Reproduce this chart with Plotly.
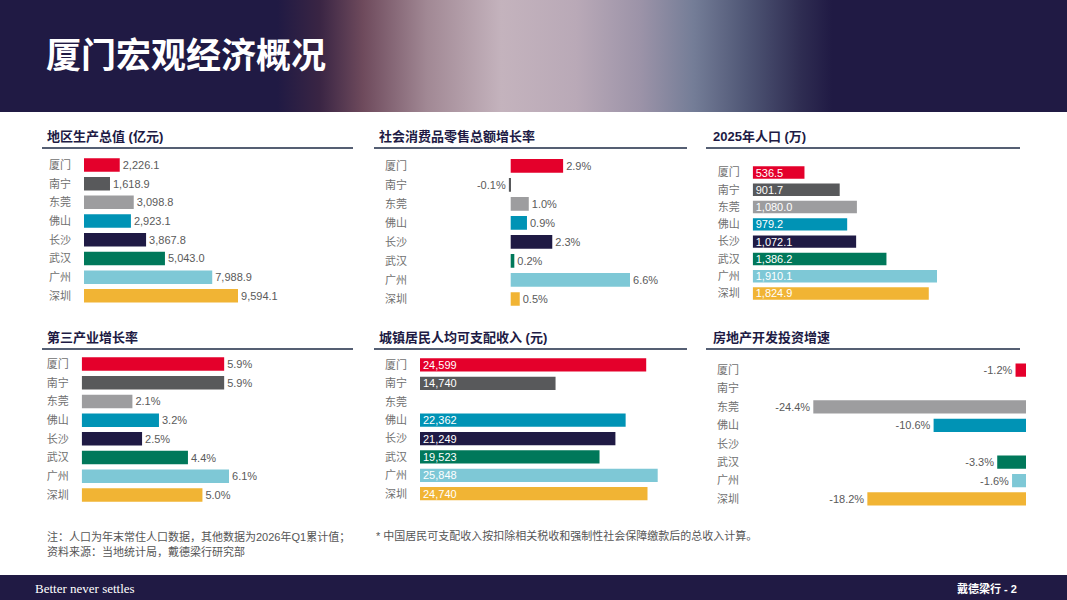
import plotly.graph_objects as go

# City order and colours (same in every panel)
cities = ["厦门", "南宁", "东莞", "佛山", "长沙", "武汉", "广州", "深圳"]
city_colors = ["#e4002b", "#58595b", "#9d9d9f", "#0093b5",
               "#1f1a44", "#00785a", "#7ec8d6", "#f1b434"]

# Panel data
gdp = [2226.1, 1618.9, 3098.8, 2923.1, 3867.8, 5043.0, 7988.9, 9594.1]
retail_growth = [2.9, -0.1, 1.0, 0.9, 2.3, 0.2, 6.6, 0.5]
population = [536.5, 901.7, 1080.0, 979.2, 1072.1, 1386.2, 1910.1, 1824.9]
tertiary_growth = [5.9, 5.9, 2.1, 3.2, 2.5, 4.4, 6.1, 5.0]
income = [24599, 14740, None, 22362, 21249, 19523, 25848, 24740]
realestate_growth = [-1.2, None, -24.4, -10.6, None, -3.3, -1.6, -18.2]

W, H = 1067, 600
NAVY = "#201a44"
FONT = "Liberation Sans, Noto Sans CJK SC, sans-serif"


def px_x(v):
    return v / W


def px_y(v):
    return 1 - v / H


def fmt_1(v):
    return "" if v is None else f"{v:,.1f}"


def fmt_pct(v):
    return "" if v is None else f"{v:.1f}%"


def fmt_int(v):
    return "" if v is None else f"{v:,.0f}"


# panel: title, values, formatter, text inside?, x domain px, zero px, px per unit, y domain px,
# title pos, rule span
panels = [
    dict(title="地区生产总值 (亿元)", vals=gdp, fmt=fmt_1, inside=False,
         xd=(84, 350), zero=84, ppu=(238 - 84) / 9594.1, yd=(155.6, 305.2),
         tx=45, ty=136, rule=(42, 353, 148)),
    dict(title="社会消费品零售总额增长率", vals=retail_growth, fmt=fmt_pct, inside=False,
         xd=(420, 685), zero=510.7, ppu=(630 - 510.7) / 6.6, yd=(156.3, 308.5),
         tx=377, ty=136, rule=(374, 687, 148)),
    dict(title="2025年人口 (万)", vals=population, fmt=fmt_1, inside=True,
         xd=(752.7, 1020), zero=752.7, ppu=(937 - 752.7) / 1910.1, yd=(163.9, 302.1),
         tx=711, ty=136, rule=(706, 1020, 148)),
    dict(title="第三产业增长率", vals=tertiary_growth, fmt=fmt_pct, inside=False,
         xd=(81.7, 350), zero=81.7, ppu=(229 - 81.7) / 6.1, yd=(354.6, 504.4),
         tx=45, ty=337, rule=(42, 353, 349)),
    dict(title="城镇居民人均可支配收入 (元)", vals=income, fmt=fmt_int, inside=True,
         xd=(420, 687), zero=420, ppu=(657.7 - 420) / 25848, yd=(355.8, 502.9),
         tx=377, ty=337, rule=(374, 687, 349)),
    dict(title="房地产开发投资增速", vals=realestate_growth, fmt=fmt_pct, inside=False,
         xd=(752, 1026), zero=1026, ppu=(1026 - 813.3) / 24.4, yd=(360.8, 508.2),
         tx=711, ty=337, rule=(706, 1020, 349)),
]

fig = go.Figure()
shapes = []
annotations = []
layout_axes = {}

# Header: navy band with a blurred hint of the street photo (horizontal gradient)
fig.add_trace(go.Scatter(
    x=[0, 1, 1, 0, 0], y=[0, 0, 1, 1, 0], mode="lines", fill="toself",
    line=dict(width=0),
    fillgradient=dict(type="horizontal", colorscale=[
        [0.0, NAVY], [0.26, NAVY], [0.30, "#3a2544"], [0.34, "#6e4a5c"],
        [0.40, "#a18894"], [0.47, "#c4b3bd"], [0.54, "#b9a9b7"],
        [0.60, "#9c93a8"], [0.65, "#747d97"], [0.70, "#4f5675"],
        [0.75, "#2f2d52"], [0.78, NAVY], [1.0, NAVY]]),
    hoverinfo="skip", showlegend=False, xaxis="x7", yaxis="y7",
))
layout_axes["xaxis7"] = dict(domain=[0, 1], range=[0, 1], visible=False,
                             anchor="y7", fixedrange=True)
layout_axes["yaxis7"] = dict(domain=[px_y(112), 1], range=[0, 1], visible=False,
                             anchor="x7", fixedrange=True)

for i, p in enumerate(panels, start=1):
    xa = "x" if i == 1 else f"x{i}"
    ya = "y" if i == 1 else f"y{i}"
    fig.add_trace(go.Bar(
        y=cities, x=p["vals"], orientation="h",
        marker=dict(color=city_colors, line=dict(width=0)),
        width=0.72,
        text=[p["fmt"](v) for v in p["vals"]],
        textposition="inside" if p["inside"] else "outside",
        insidetextanchor="start",
        textfont=dict(family=FONT, size=11,
                      color="white" if p["inside"] else "#5a5a5a"),
        constraintext="none",
        cliponaxis=False,
        hoverinfo="skip",
        xaxis=xa, yaxis=ya, showlegend=False,
    ))
    x0, x1 = p["xd"]
    rng = [-(p["zero"] - x0) / p["ppu"], (x1 - p["zero"]) / p["ppu"]]
    layout_axes["xaxis" if i == 1 else f"xaxis{i}"] = dict(
        domain=[px_x(x0), px_x(x1)], range=rng, anchor=ya,
        visible=False, fixedrange=True)
    layout_axes["yaxis" if i == 1 else f"yaxis{i}"] = dict(
        domain=[px_y(p["yd"][1]), px_y(p["yd"][0])], anchor=xa,
        categoryorder="array", categoryarray=cities, autorange="reversed",
        showline=False, showgrid=False, zeroline=False, ticks="",
        ticklabelstandoff=12,
        tickfont=dict(family=FONT, size=11, color="#707070"),
        fixedrange=True)
    annotations.append(dict(
        x=px_x(p["tx"]), y=px_y(p["ty"]),
        text=f"<b>{p['title']}</b>",
        font=dict(family=FONT, size=13, color=NAVY)))
    rx0, rx1, ry = p["rule"]
    shapes.append(dict(type="line", xref="paper", yref="paper",
                       x0=px_x(rx0), x1=px_x(rx1), y0=px_y(ry), y1=px_y(ry),
                       line=dict(color="#1c2a44", width=1.3)))

# Footer band
shapes.append(dict(type="rect", xref="paper", yref="paper", x0=0, x1=1,
                   y0=0, y1=px_y(575), fillcolor=NAVY, line=dict(width=0),
                   layer="below"))

annotations += [
    dict(x=px_x(44), y=px_y(55), text="<b>厦门宏观经济概况</b>",
         font=dict(family=FONT, size=35, color="white")),
    dict(x=px_x(45), y=px_y(536),
         text="注：人口为年末常住人口数据，其他数据为2026年Q1累计值；",
         font=dict(family=FONT, size=11, color="#555555")),
    dict(x=px_x(45), y=px_y(551), text="资料来源：当地统计局，戴德梁行研究部",
         font=dict(family=FONT, size=11, color="#555555")),
    dict(x=px_x(374), y=px_y(535),
         text="* 中国居民可支配收入按扣除相关税收和强制性社会保障缴款后的总收入计算。",
         font=dict(family=FONT, size=11, color="#555555")),
    dict(x=px_x(33), y=px_y(588), text="Better never settles",
         font=dict(family="Liberation Serif, DejaVu Serif, serif", size=13, color="white")),
    dict(x=px_x(1019), y=px_y(588), text="<b>戴德梁行 - 2</b>", xanchor="right",
         font=dict(family=FONT, size=11, color="white")),
]
for a in annotations:
    a.setdefault("xref", "paper")
    a.setdefault("yref", "paper")
    a.setdefault("xanchor", "left")
    a.setdefault("yanchor", "middle")
    a.setdefault("showarrow", False)

fig.update_layout(
    width=W, height=H,
    margin=dict(l=0, r=0, t=0, b=0),
    paper_bgcolor="white", plot_bgcolor="rgba(0,0,0,0)",
    font=dict(family=FONT),
    shapes=shapes, annotations=annotations,
    bargap=0.28,
    **layout_axes,
)

fig.write_html(
    "out.html",
    config={"displayModeBar": False},
    post_script="document.body.style.margin='0';document.body.style.overflow='hidden';",
)
